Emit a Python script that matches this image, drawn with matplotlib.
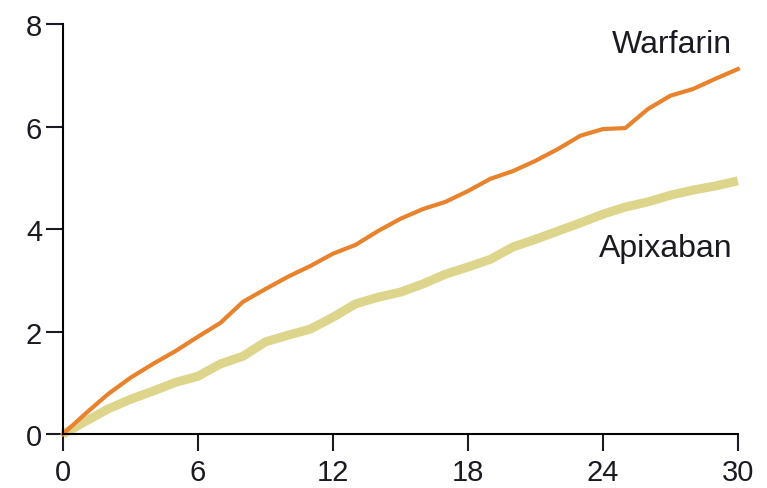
import matplotlib.pyplot as plt

# cumulative event rate (%) by month
months = list(range(0, 31))
warfarin = [0, 0.40, 0.78, 1.10, 1.37, 1.62, 1.90, 2.17, 2.58, 2.83,
            3.07, 3.28, 3.52, 3.69, 3.96, 4.20, 4.39, 4.53, 4.74, 4.98,
            5.13, 5.33, 5.56, 5.82, 5.95, 5.97, 6.34, 6.60, 6.73, 6.93, 7.12]
apixaban = [0, 0.25, 0.49, 0.68, 0.84, 1.01, 1.13, 1.37, 1.52, 1.80,
            1.93, 2.05, 2.28, 2.54, 2.67, 2.77, 2.93, 3.12, 3.26, 3.41,
            3.65, 3.80, 3.96, 4.12, 4.29, 4.43, 4.53, 4.66, 4.76, 4.84, 4.94]
x_ticks = [0, 6, 12, 18, 24, 30]
y_ticks = [0, 2, 4, 6, 8]

plt.rcParams['font.family'] = ['Liberation Sans', 'DejaVu Sans']

fig = plt.figure(figsize=(7.67, 4.89), dpi=100)
ax = fig.add_axes([0.082, 0.110, 0.880, 0.839])

ax.plot(months, apixaban, color='#DED58C', linewidth=6.5, solid_capstyle='butt', clip_on=False)
ax.plot(months, warfarin, color='#E9822C', linewidth=3, clip_on=False)

ax.text(29.75, 7.45, 'Warfarin', ha='right', va='baseline', fontsize=23, color='#1a1a22')
ax.text(29.75, 3.47, 'Apixaban', ha='right', va='baseline', fontsize=23, color='#1a1a22')

ax.set_xlim(0, 30)
ax.set_ylim(0, 8)
ax.set_xticks(x_ticks)
ax.set_yticks(y_ticks)
for s in ['top', 'right']:
    ax.spines[s].set_visible(False)
for s in ['left', 'bottom']:
    ax.spines[s].set_linewidth(1.5)
ax.tick_params(axis='both', length=12, width=1.5, labelsize=21, colors='#1a1a22')
ax.tick_params(axis='y', pad=3)
ax.tick_params(axis='x', pad=5)

fig.savefig('out.png')
